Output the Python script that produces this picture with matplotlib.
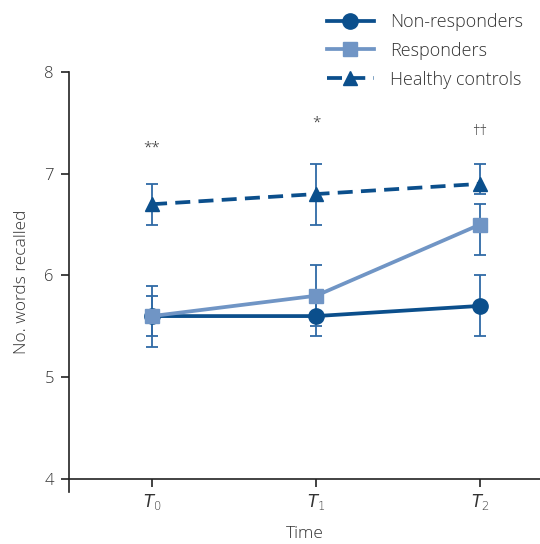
import matplotlib.pyplot as plt
from matplotlib.lines import Line2D

plt.rcParams['font.family'] = ['Open Sans', 'DejaVu Sans']
plt.rcParams['font.weight'] = 'light'
plt.rcParams['axes.labelweight'] = 'light'

# data
times = [0, 1, 2]
time_labels = ["$T_0$", "$T_1$", "$T_2$"]

non_resp = [5.6, 5.6, 5.7]
non_resp_lo = [0.3, 0.2, 0.3]
non_resp_hi = [0.3, 0.2, 0.3]

resp = [5.6, 5.8, 6.5]
resp_lo = [0.2, 0.3, 0.3]
resp_hi = [0.2, 0.3, 0.2]

healthy = [6.7, 6.8, 6.9]
healthy_lo = [0.2, 0.3, 0.1]
healthy_hi = [0.2, 0.3, 0.2]

sig_labels = ["**", "*", "\u2020\u2020"]
sig_y = [7.25, 7.5, 7.42]

dark = "#0b4f8c"
light = "#7095c5"
err_col = "#2f6aa6"
txt = "#333333"

fig = plt.figure(figsize=(5.4, 5.44), dpi=100)
ax = fig.add_axes([0.128, 0.0956, 0.872, 0.772])

for y, lo, hi in [(non_resp, non_resp_lo, non_resp_hi),
                  (resp, resp_lo, resp_hi),
                  (healthy, healthy_lo, healthy_hi)]:
    ax.errorbar(times, y, yerr=[lo, hi], fmt="none", ecolor=err_col,
                elinewidth=1.3, capsize=4.5, capthick=1.3, zorder=2)

ax.plot(times, non_resp, color=dark, lw=2.7, marker="o", ms=11, zorder=3)
ax.plot(times, resp, color=light, lw=2.7, marker="s", ms=10.5, zorder=3)
ax.plot(times, healthy, color=dark, lw=2.7, ls=(0, (4, 2.2)), marker="^", ms=10.5, zorder=4)

for t, s, yy in zip(times, sig_labels, sig_y):
    ax.text(t, yy, s, ha="center", va="center", fontsize=11, color=txt)

ax.set_xlim(-0.506, 2.366)
ax.set_ylim(3.87, 8)
ax.set_xticks(times)
ax.set_xticklabels(time_labels)
ax.set_yticks([4, 5, 6, 7, 8])
ax.spines["top"].set_visible(False)
ax.spines["right"].set_visible(False)
ax.spines["bottom"].set_position(("data", 4))
ax.spines["left"].set_bounds(3.87, 8)
for sp in ["left", "bottom"]:
    ax.spines[sp].set_color("#222222")
    ax.spines[sp].set_linewidth(1.2)
ax.tick_params(axis="both", length=6, width=1.2, color="#222222",
               labelsize=12, labelcolor=txt, direction="out")
ax.tick_params(axis="y", pad=5)
ax.set_xlabel("Time", fontsize=12.5, color=txt, labelpad=10)
ax.set_ylabel("No. words recalled", fontsize=12.5, color=txt, labelpad=10)

handles = [
    Line2D([], [], color=dark, lw=2.7, marker="o", ms=11),
    Line2D([], [], color=light, lw=2.7, marker="s", ms=10.5),
    Line2D([], [], color=dark, lw=2.7, ls=(0, (4, 2.2)), marker="^", ms=10.5),
]
fig.legend(handles, ["Non-responders", "Responders", "Healthy controls"],
           loc="upper left", bbox_to_anchor=(0.575, 1.006), frameon=False,
           fontsize=13, labelcolor=txt, handlelength=2.6, handletextpad=0.9,
           labelspacing=0.6)

fig.savefig("out.png", dpi=100)
